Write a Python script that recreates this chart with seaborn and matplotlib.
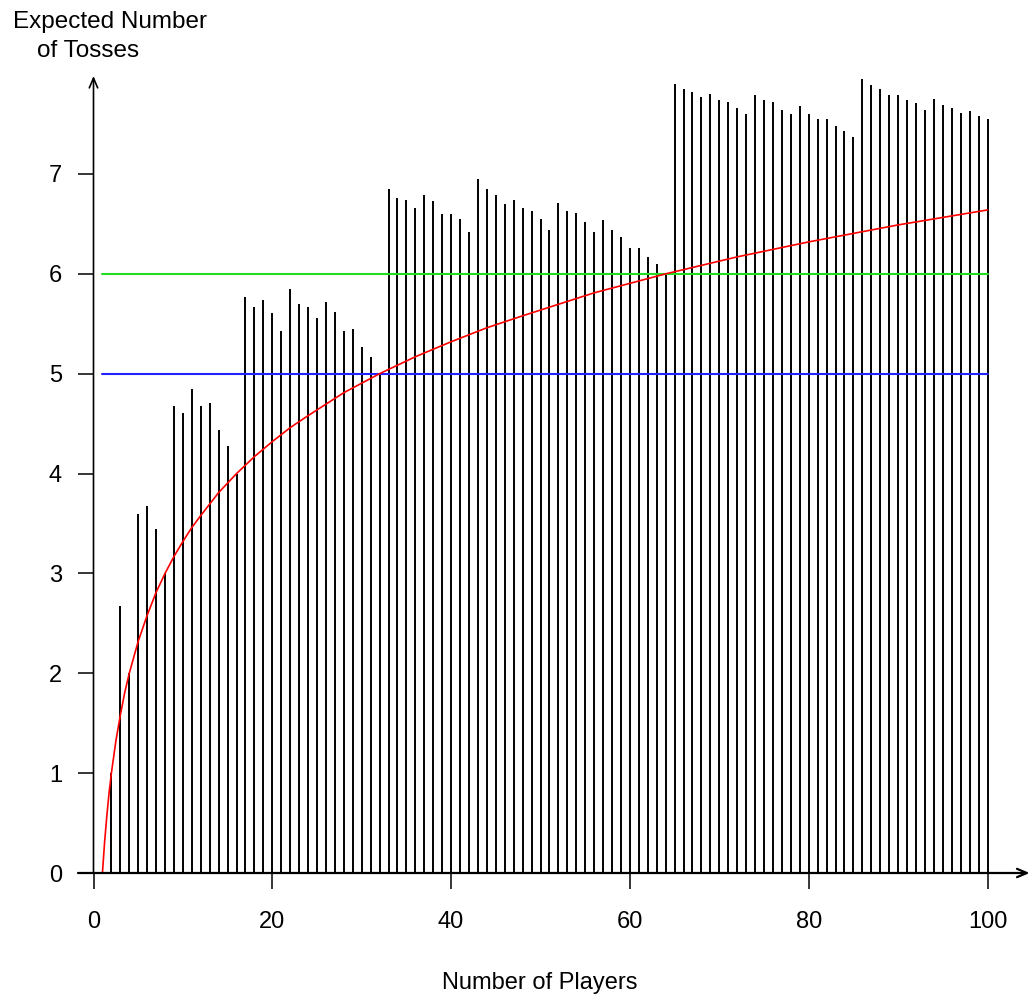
import numpy as np
import pandas as pd
import matplotlib
matplotlib.use("Agg")
import matplotlib.pyplot as plt
import seaborn as sns

# ---------------- data ----------------
players = list(range(1, 101))
tosses = [0, 1.00, 2.67, 2.00, 3.60, 3.68, 3.44, 3.00, 4.68, 4.61, 4.85, 4.68, 4.71, 4.44, 4.28, 4.00,
          5.77, 5.67, 5.74, 5.61, 5.43, 5.85, 5.70, 5.67, 5.56, 5.72, 5.62, 5.43, 5.45, 5.27, 5.17, 5.00,
          6.85, 6.76, 6.74, 6.66, 6.79, 6.73, 6.60, 6.60, 6.55, 6.42, 6.95, 6.85, 6.79, 6.70, 6.74, 6.66,
          6.63, 6.55, 6.44, 6.71, 6.63, 6.61, 6.52, 6.42, 6.54, 6.44, 6.37, 6.26, 6.26, 6.17, 6.10, 6.00,
          7.90, 7.85, 7.82, 7.77, 7.80, 7.74, 7.72, 7.66, 7.60, 7.79, 7.74, 7.72, 7.64, 7.60, 7.68, 7.60,
          7.55, 7.55, 7.48, 7.43, 7.37, 7.95, 7.89, 7.85, 7.79, 7.79, 7.74, 7.71, 7.64, 7.75, 7.69, 7.66,
          7.61, 7.63, 7.58, 7.55]

# red reference curve
curve_x = [1, 1.25, 1.5, 1.75, 2, 2.5, 3, 3.5, 4, 5, 6, 7, 8, 9, 10, 11, 12, 14, 16, 18, 20, 22,
           24, 28, 32, 36, 40, 44, 48, 56, 64, 72, 80, 90, 100]
curve_y = [0, 0.32, 0.58, 0.81, 1.0, 1.32, 1.58, 1.81, 2.0, 2.32, 2.58, 2.81, 3.0, 3.17, 3.32, 3.46,
           3.58, 3.81, 4.0, 4.17, 4.32, 4.46, 4.58, 4.81, 5.0, 5.17, 5.32, 5.46, 5.58, 5.81, 6.0,
           6.17, 6.32, 6.49, 6.64]

reference_levels = [5, 6]
reference_colors = ["#2222ff", "#22dd22"]

x_ticks = [0, 20, 40, 60, 80, 100]
y_ticks = [0, 1, 2, 3, 4, 5, 6, 7]
x_label = "Number of Players"
y_label_lines = ["Expected Number", "of Tosses"]

# ---------------- figure ----------------
sns.set_style("white")
plt.rcParams["font.family"] = ["Liberation Sans", "DejaVu Sans"]
plt.rcParams["text.color"] = "black"

W, H = 1031, 996
fig = plt.figure(figsize=(W / 100, H / 100), dpi=100)

left_px, right_px, top_px, bottom_px = 78, 1030, 70, 889
ax = fig.add_axes([left_px / W, 1 - bottom_px / H, (right_px - left_px) / W, (bottom_px - top_px) / H])

# data -> pixel mapping (x: 0->93.5, 100->987.5 ; y: 0->873, 7->174)
xs = (987.5 - 93.5) / 100
ys = (873 - 174) / 7
ax.set_xlim(-(93.5 - left_px) / xs, 100 + (right_px - 987.5) / xs)
ax.set_ylim(-(bottom_px - 873) / ys, 7 + (174 - top_px) / ys)

# bars (vertical lines)
ax.vlines(players, 0, tosses, color="black", lw=1.4, zorder=2)

# reference horizontal lines
for lvl, col in zip(reference_levels, reference_colors):
    df_ref = pd.DataFrame({"x": [min(players), max(players)], "y": [lvl, lvl]})
    sns.lineplot(data=df_ref, x="x", y="y", color=col, lw=1.5, ax=ax, zorder=3)

# red curve
df_curve = pd.DataFrame({"x": curve_x, "y": curve_y})
sns.lineplot(data=df_curve, x="x", y="y", color="#ff0000", lw=1.2, ax=ax, zorder=4)

for s in ax.spines.values():
    s.set_visible(False)

# axes with arrows
xl = ax.get_xlim()
ax.annotate("", xy=(xl[1] - 0.05, 0), xytext=(xl[0], 0),
            arrowprops=dict(arrowstyle="->,head_length=0.7,head_width=0.3", lw=1.6, color="black",
                            shrinkA=0, shrinkB=0), annotation_clip=False, zorder=5)
ax.annotate("", xy=(0, 7 + (174 - 76) / ys), xytext=(0, 0),
            arrowprops=dict(arrowstyle="->,head_length=0.7,head_width=0.3", lw=1.2, color="black",
                            shrinkA=0, shrinkB=0), annotation_clip=False, zorder=5)

ax.set_xticks(x_ticks)
ax.set_yticks(y_ticks)
ax.tick_params(axis="y", left=True, direction="in", length=15 * 0.72, width=1.1, pad=11.5,
               labelsize=17, colors="black")
ax.tick_params(axis="x", bottom=True, direction="in", length=16 * 0.72, width=1.1, pad=16,
               labelsize=17, colors="black")
ax.set_xlabel("")
ax.set_ylabel("")

fig.text(540 / W, 1 - 983 / H, x_label, ha="center", va="center", fontsize=17, color="black")
fig.text(13 / W, 1 - 28 / H, y_label_lines[0], ha="left", va="baseline", fontsize=17.5, color="black")
fig.text(37 / W, 1 - 57 / H, y_label_lines[1], ha="left", va="baseline", fontsize=17.5, color="black")

fig.savefig("out.png", dpi=100)
